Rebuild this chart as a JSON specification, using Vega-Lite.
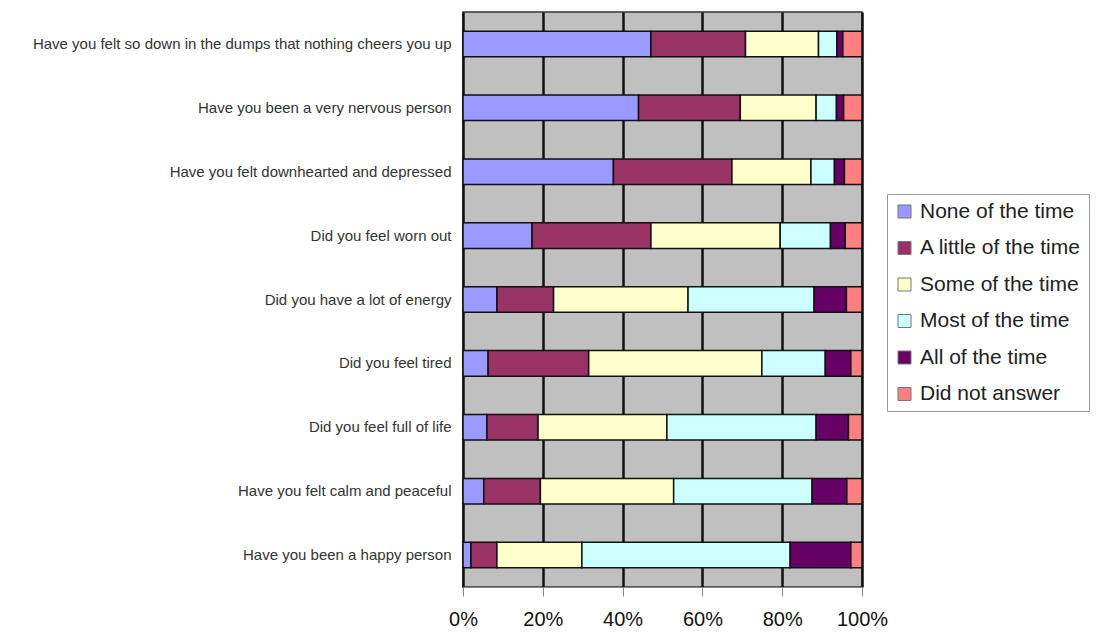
{
  "$schema": "https://vega.github.io/schema/vega-lite/v6.json",
  "width": 399,
  "height": 575,
  "autosize": "none",
  "padding": {"left": 463, "top": 12, "right": 239, "bottom": 46},
  "background": "white",
  "config": {
    "view": {"fill": "#C0C0C0", "stroke": "#333333", "strokeWidth": 1.5},
    "font": "Liberation Sans"
  },
  "data": {
    "values": [
      {"q": "Have you felt so down in the dumps that nothing cheers you up", "r": "None of the time", "o": 1, "v": 47.1},
      {"q": "Have you felt so down in the dumps that nothing cheers you up", "r": "A little of the time", "o": 2, "v": 23.7},
      {"q": "Have you felt so down in the dumps that nothing cheers you up", "r": "Some of the time", "o": 3, "v": 18.3},
      {"q": "Have you felt so down in the dumps that nothing cheers you up", "r": "Most of the time", "o": 4, "v": 4.6},
      {"q": "Have you felt so down in the dumps that nothing cheers you up", "r": "All of the time", "o": 5, "v": 1.5},
      {"q": "Have you felt so down in the dumps that nothing cheers you up", "r": "Did not answer", "o": 6, "v": 4.8},
      {"q": "Have you been a very nervous person", "r": "None of the time", "o": 1, "v": 44.0},
      {"q": "Have you been a very nervous person", "r": "A little of the time", "o": 2, "v": 25.5},
      {"q": "Have you been a very nervous person", "r": "Some of the time", "o": 3, "v": 19.0},
      {"q": "Have you been a very nervous person", "r": "Most of the time", "o": 4, "v": 5.1},
      {"q": "Have you been a very nervous person", "r": "All of the time", "o": 5, "v": 1.8},
      {"q": "Have you been a very nervous person", "r": "Did not answer", "o": 6, "v": 4.6},
      {"q": "Have you felt downhearted and depressed", "r": "None of the time", "o": 1, "v": 37.7},
      {"q": "Have you felt downhearted and depressed", "r": "A little of the time", "o": 2, "v": 29.7},
      {"q": "Have you felt downhearted and depressed", "r": "Some of the time", "o": 3, "v": 19.8},
      {"q": "Have you felt downhearted and depressed", "r": "Most of the time", "o": 4, "v": 5.9},
      {"q": "Have you felt downhearted and depressed", "r": "All of the time", "o": 5, "v": 2.5},
      {"q": "Have you felt downhearted and depressed", "r": "Did not answer", "o": 6, "v": 4.4},
      {"q": "Did you feel worn out", "r": "None of the time", "o": 1, "v": 17.3},
      {"q": "Did you feel worn out", "r": "A little of the time", "o": 2, "v": 29.8},
      {"q": "Did you feel worn out", "r": "Some of the time", "o": 3, "v": 32.4},
      {"q": "Did you feel worn out", "r": "Most of the time", "o": 4, "v": 12.6},
      {"q": "Did you feel worn out", "r": "All of the time", "o": 5, "v": 3.7},
      {"q": "Did you feel worn out", "r": "Did not answer", "o": 6, "v": 4.2},
      {"q": "Did you have a lot of energy", "r": "None of the time", "o": 1, "v": 8.5},
      {"q": "Did you have a lot of energy", "r": "A little of the time", "o": 2, "v": 14.2},
      {"q": "Did you have a lot of energy", "r": "Some of the time", "o": 3, "v": 33.7},
      {"q": "Did you have a lot of energy", "r": "Most of the time", "o": 4, "v": 31.6},
      {"q": "Did you have a lot of energy", "r": "All of the time", "o": 5, "v": 8.1},
      {"q": "Did you have a lot of energy", "r": "Did not answer", "o": 6, "v": 3.9},
      {"q": "Did you feel tired", "r": "None of the time", "o": 1, "v": 6.3},
      {"q": "Did you feel tired", "r": "A little of the time", "o": 2, "v": 25.2},
      {"q": "Did you feel tired", "r": "Some of the time", "o": 3, "v": 43.4},
      {"q": "Did you feel tired", "r": "Most of the time", "o": 4, "v": 15.9},
      {"q": "Did you feel tired", "r": "All of the time", "o": 5, "v": 6.4},
      {"q": "Did you feel tired", "r": "Did not answer", "o": 6, "v": 2.8},
      {"q": "Did you feel full of life", "r": "None of the time", "o": 1, "v": 6.0},
      {"q": "Did you feel full of life", "r": "A little of the time", "o": 2, "v": 12.8},
      {"q": "Did you feel full of life", "r": "Some of the time", "o": 3, "v": 32.3},
      {"q": "Did you feel full of life", "r": "Most of the time", "o": 4, "v": 37.4},
      {"q": "Did you feel full of life", "r": "All of the time", "o": 5, "v": 8.1},
      {"q": "Did you feel full of life", "r": "Did not answer", "o": 6, "v": 3.4},
      {"q": "Have you felt calm and peaceful", "r": "None of the time", "o": 1, "v": 5.2},
      {"q": "Have you felt calm and peaceful", "r": "A little of the time", "o": 2, "v": 14.2},
      {"q": "Have you felt calm and peaceful", "r": "Some of the time", "o": 3, "v": 33.4},
      {"q": "Have you felt calm and peaceful", "r": "Most of the time", "o": 4, "v": 34.7},
      {"q": "Have you felt calm and peaceful", "r": "All of the time", "o": 5, "v": 8.7},
      {"q": "Have you felt calm and peaceful", "r": "Did not answer", "o": 6, "v": 3.8},
      {"q": "Have you been a happy person", "r": "None of the time", "o": 1, "v": 2.0},
      {"q": "Have you been a happy person", "r": "A little of the time", "o": 2, "v": 6.5},
      {"q": "Have you been a happy person", "r": "Some of the time", "o": 3, "v": 21.3},
      {"q": "Have you been a happy person", "r": "Most of the time", "o": 4, "v": 52.2},
      {"q": "Have you been a happy person", "r": "All of the time", "o": 5, "v": 15.2},
      {"q": "Have you been a happy person", "r": "Did not answer", "o": 6, "v": 2.8}
    ]
  },
  "mark": {"type": "bar", "stroke": "#111111", "strokeWidth": 1.5},
  "encoding": {
    "y": {
      "field": "q",
      "type": "nominal",
      "sort": null,
      "scale": {"paddingInner": 0.6, "paddingOuter": 0.3},
      "axis": {
        "title": null,
        "domain": false,
        "ticks": false,
        "labelFontSize": 15,
        "labelColor": "#333333",
        "labelPadding": 12,
        "labelLimit": 470
      }
    },
    "x": {
      "field": "v",
      "type": "quantitative",
      "stack": "normalize",
      "scale": {"domain": [0, 1]},
      "axis": {
        "title": null,
        "values": [0, 0.2, 0.4, 0.6, 0.8, 1],
        "format": ".0%",
        "grid": true,
        "gridColor": "#111111",
        "gridWidth": 2.5,
        "gridOpacity": 1,
        "domainColor": "#888888",
        "tickColor": "#888888",
        "tickSize": 9,
        "labelFontSize": 20,
        "labelColor": "#111111",
        "labelPadding": 13,
        "labelFlush": false
      }
    },
    "color": {
      "field": "r",
      "type": "nominal",
      "sort": ["None of the time", "A little of the time", "Some of the time", "Most of the time", "All of the time", "Did not answer"],
      "scale": {
        "domain": ["None of the time", "A little of the time", "Some of the time", "Most of the time", "All of the time", "Did not answer"],
        "range": ["#9999FF", "#993366", "#FFFFCC", "#CCFFFF", "#660066", "#FF8080"]
      },
      "legend": {
        "title": null,
        "orient": "none",
        "legendX": 424,
        "legendY": 182,
        "padding": 7,
        "strokeColor": "#999999",
        "fillColor": "white",
        "symbolType": "square",
        "symbolSize": 169,
        "symbolStrokeColor": "#777777",
        "symbolStrokeWidth": 1,
        "labelFontSize": 21,
        "labelColor": "#222222",
        "labelOffset": 5,
        "rowPadding": 14.5,
        "labelLimit": 300
      }
    },
    "order": {"field": "o", "type": "quantitative"}
  }
}
